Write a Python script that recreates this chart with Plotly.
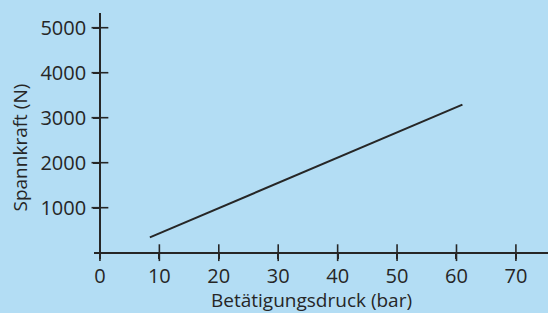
import plotly.graph_objects as go

# Data
druck_bar = [8.4, 61.0]          # Betätigungsdruck (bar)
spannkraft_n = [340, 3290]       # Spannkraft (N)
x_ticks = [0, 10, 20, 30, 40, 50, 60, 70]
y_ticks = [1000, 2000, 3000, 4000, 5000]

BG = "#b3ddf4"
INK = "#262626"
FONT = "Open Sans"

x_range = [-1, 75.4]
y_range = [-118, 5327]
# fractions where the axes cross zero
x_pos = (0 - y_range[0]) / (y_range[1] - y_range[0])
y_pos = (0 - x_range[0]) / (x_range[1] - x_range[0])

fig = go.Figure()
fig.add_trace(go.Scatter(x=druck_bar, y=spannkraft_n, mode="lines",
                         line=dict(color=INK, width=2), showlegend=False,
                         hoverinfo="skip"))
# cross-shaped tick marks on both axes
fig.add_trace(go.Scatter(x=x_ticks, y=[0] * len(x_ticks), mode="markers",
                         marker=dict(symbol="line-ns", size=12,
                                     line=dict(color=INK, width=1.6)),
                         showlegend=False, hoverinfo="skip", cliponaxis=False))
fig.add_trace(go.Scatter(x=[0] * len(y_ticks), y=y_ticks, mode="markers",
                         marker=dict(symbol="line-ew", size=12,
                                     line=dict(color=INK, width=1.6)),
                         showlegend=False, hoverinfo="skip", cliponaxis=False))

common = dict(showgrid=False, zeroline=False, showline=True, linecolor=INK,
              linewidth=1.6, tickcolor=INK, tickwidth=1.6, ticklen=6,
              ticks="outside")

fig.update_layout(
    width=548, height=313,
    paper_bgcolor=BG, plot_bgcolor=BG,
    margin=dict(l=94, r=0, t=13, b=55),
    font=dict(family=FONT, size=20, color=INK),
    xaxis=dict(range=x_range, tickvals=x_ticks,
               anchor="free", position=x_pos, side="bottom",
               tickfont=dict(family=FONT, size=20, color=INK), **common),
    yaxis=dict(range=y_range, tickvals=y_ticks, ticklabelstandoff=3,
               anchor="free", position=y_pos, side="left", domain=[0, 1],
               tickfont=dict(family=FONT, size=20, color=INK), **common),
    annotations=[
        dict(text="Betätigungsdruck (bar)", xref="paper", yref="paper",
             x=(311 - 94) / 454, y=(313 - 300 - 55) / 245,
             xanchor="center", yanchor="middle", showarrow=False,
             font=dict(family=FONT, size=19, color=INK)),
        dict(text="Spannkraft (N)", xref="paper", yref="paper",
             x=(20 - 94) / 454, y=(313 - 147.5 - 55) / 245,
             xanchor="center", yanchor="middle", showarrow=False,
             textangle=-90,
             font=dict(family=FONT, size=19, color=INK)),
    ],
)

fig.write_html("out.html",
               config={"displayModeBar": False},
               post_script="document.body.style.margin='0';"
                           "document.body.style.overflow='hidden';")
